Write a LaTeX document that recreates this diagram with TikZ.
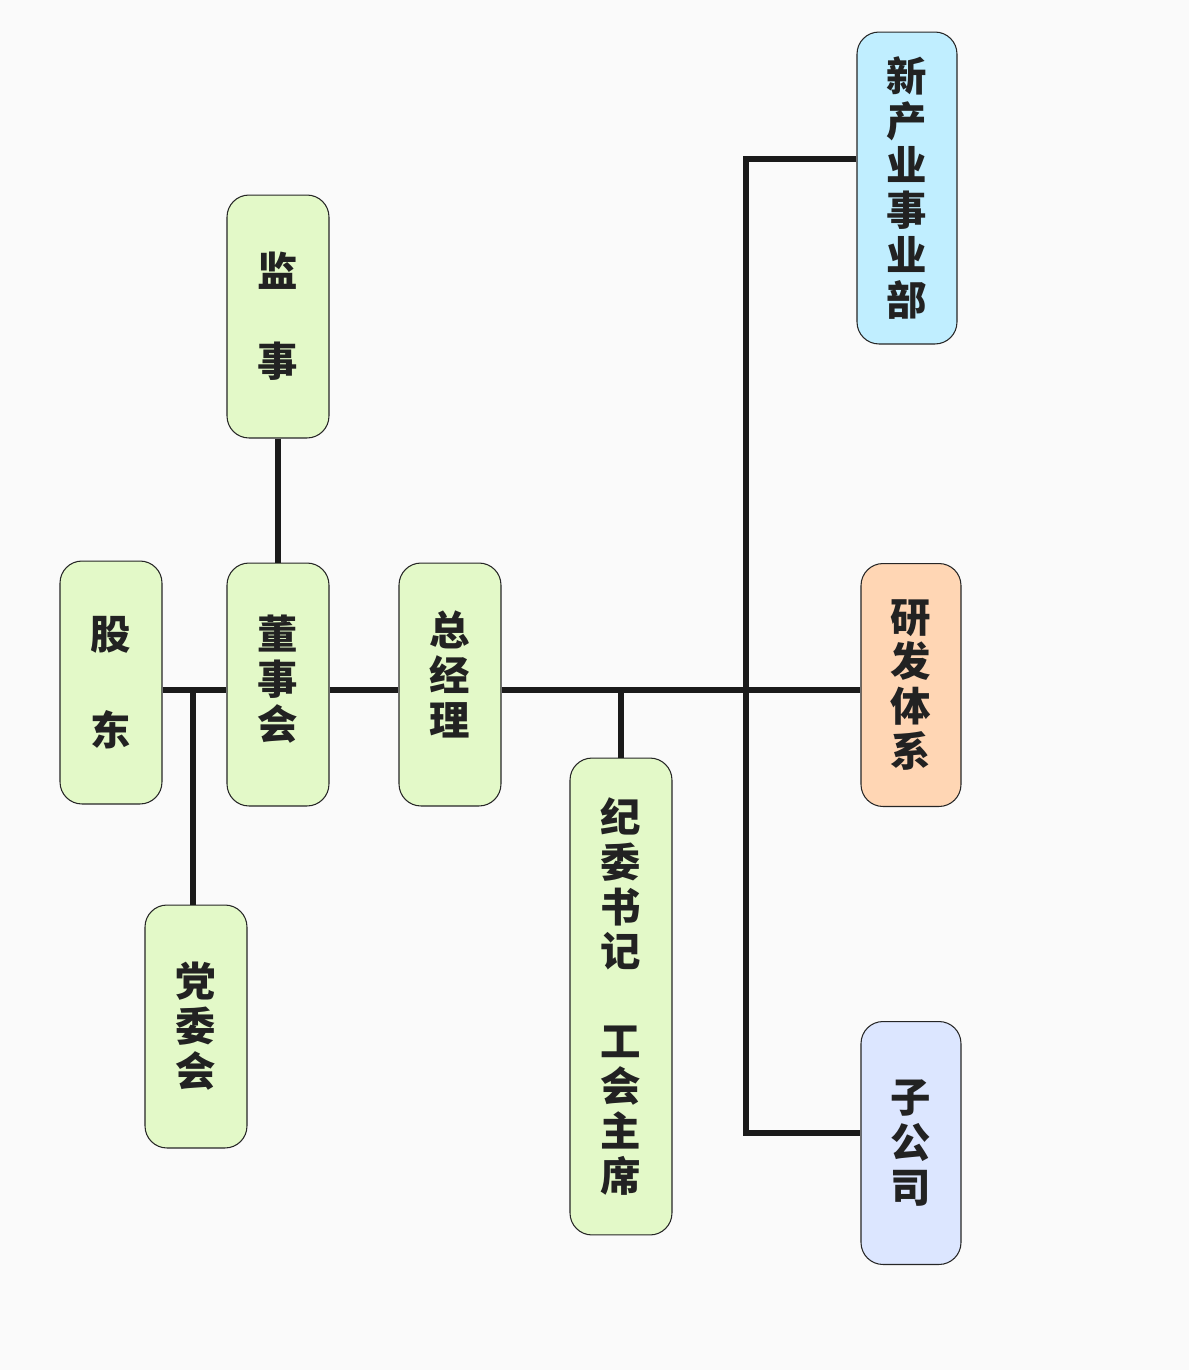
\documentclass[tikz,border=0pt]{standalone}
\usepackage{fontspec}
\newfontfamily\cjk{Noto Sans CJK SC}
\usetikzlibrary{positioning}
\definecolor{bggray}{HTML}{FAFAFA}
\definecolor{boxgreen}{HTML}{E3F9C8}
\definecolor{boxcyan}{HTML}{C0EEFF}
\definecolor{boxpeach}{HTML}{FFD6B4}
\definecolor{boxblue}{HTML}{DCE6FF}
\definecolor{textgray}{HTML}{222222}
\definecolor{linegray}{HTML}{1A1A1A}
\tikzset{%
  org box/.style={draw=black!85, line width=0.6pt, rounded corners=0.44cm,
    fill=boxgreen, minimum width=2.04cm, minimum height=4.86cm,
    inner sep=0pt, align=center, text=textgray,
    font=\cjk\bfseries\fontsize{23pt}{25.6pt}\selectfont},%
  link/.style={draw=linegray, line width=3.4pt}%
}

\begin{document}
\begin{tikzpicture}[x=0.02cm,y=-0.02cm]
	%% canvas
	\fill[bggray] (0,0) rectangle (1189,1370);
	\useasboundingbox (0,0) rectangle (1189,1370);
	
	%% boxes
	\node[org box] (gudong) at (111,682.5) {股\\[1.02cm]东};
	\node[org box, text depth=0.3cm] (dongshihui) at (278,684.5) {董\\事\\会};
	\node[org box] (jianshi) at (278,316.5) {监\\[0.9cm]事};
	\node[org box, text depth=0.46cm] (zongjingli) at (450,684.5) {总\\经\\理};
	\node[org box] (dangwei) at (196,1026.5) {党\\委\\会};
	\node[org box, minimum height=9.54cm] (jiwei) at (621,996.5)
		{纪\\委\\书\\记\\[0.9cm]工\\会\\主\\席};
	\node[org box, fill=boxcyan, minimum width=2cm, minimum height=6.24cm] (xinchanye)
		at (907,188) {新\\产\\业\\事\\业\\部};
	\node[org box, fill=boxpeach, minimum width=2cm] (yanfa) at (911,685) {研\\发\\体\\系};
	\node[org box, fill=boxblue, minimum width=2cm] (zigongsi) at (911,1143) {子\\公\\司};
	
	%% connectors
	\coordinate (trunk) at (0,690);
	\coordinate (spineTop) at (746,159);
	\coordinate (spineBot) at (746,1133);
	\draw[link] (gudong.east |- trunk) -- (dongshihui.west |- trunk);
	\draw[link] (dongshihui.east |- trunk) -- (zongjingli.west |- trunk);
	\draw[link] (zongjingli.east |- trunk) -- (yanfa.west |- trunk);
	\draw[link] (jianshi.south) -- (dongshihui.north);
	\draw[link] (dangwei.north -| 193,0) -- (trunk -| 193,0);
	\draw[link] (jiwei.north) -- (jiwei.north |- trunk);
	\draw[link] (xinchanye.west |- spineTop) -- (spineTop) -- (spineBot)
		-- (zigongsi.west |- spineBot);
\end{tikzpicture}
\end{document}
